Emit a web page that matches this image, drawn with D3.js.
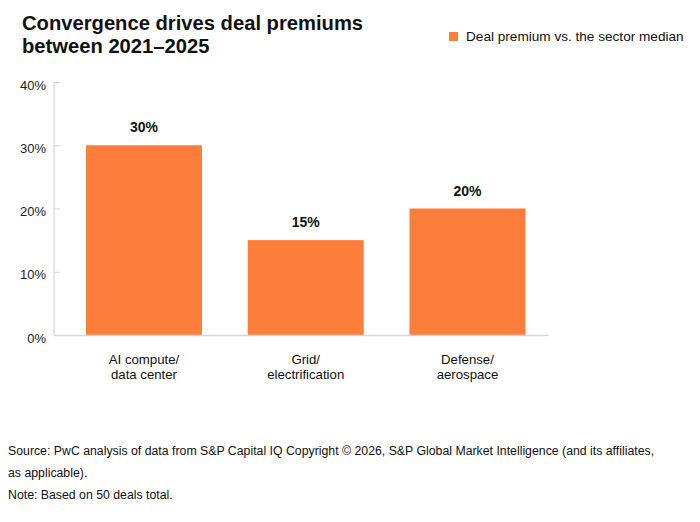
<!DOCTYPE html>
<html>
<head>
<meta charset="utf-8">
<script src="https://cdn.jsdelivr.net/npm/d3@7"></script>
<style>
  body { margin: 0; background: #fff; }
  svg { display: block; font-family: "Liberation Sans", Arial, Helvetica, sans-serif; }
</style>
</head>
<body>
<svg id="chart" width="700" height="522"></svg>
<script>
const categories = [["AI compute/", "data center"], ["Grid/", "electrification"], ["Defense/", "aerospace"]];
const categoryKeys = ["AI compute/data center", "Grid/electrification", "Defense/aerospace"];
const values = [30, 15, 20];
const yTicks = [0, 10, 20, 30, 40];
const titleLines = ["Convergence drives deal premiums", "between 2021\u20132025"];
const legendLabel = "Deal premium vs. the sector median";
const footnotes = [
  "Source: PwC analysis of data from S&P Capital IQ Copyright \u00a9 2026, S&P Global Market Intelligence (and its affiliates,",
  "as applicable).",
  "Note: Based on 50 deals total."
];

const svg = d3.select("#chart");
const orange = "#FD7E3A";
const axisColor = "#D5D5DD";

const x0 = 54, x1 = 548, yTop = 82, yBase = 335;

const x = d3.scaleBand().domain(categoryKeys).range([x0, x1])
  .paddingInner(0.283).paddingOuter(0.1686).align(0.587);
const y = d3.scaleLinear().domain([0, 40]).range([yBase, yTop]);

// title
svg.append("text").attr("x", 22).attr("y", 30)
  .attr("font-size", 20.2).attr("font-weight", "bold").attr("fill", "#111")
  .selectAll("tspan").data(titleLines).join("tspan")
  .attr("x", 22).attr("dy", (d, i) => i === 0 ? 0 : 23).text(d => d);

// legend
svg.append("rect").attr("x", 449).attr("y", 32).attr("width", 9).attr("height", 9).attr("fill", orange);
svg.append("text").attr("x", 466).attr("y", 41).attr("font-size", 13.6).attr("fill", "#111").text(legendLabel);

// y axis
const yAxis = d3.axisRight(y).tickValues(yTicks).tickSize(6).tickFormat(d => d + "%");
const gy = svg.append("g").attr("transform", `translate(${x0},0)`).call(yAxis);
gy.select(".domain").remove();
gy.selectAll(".tick line").attr("stroke", axisColor).attr("stroke-width", 1);
gy.selectAll(".tick text").attr("x", -8).attr("dy", "0.55em").attr("text-anchor", "end")
  .attr("font-size", 13).attr("fill", "#222").attr("font-family", null);
svg.append("line").attr("x1", x0).attr("x2", x0).attr("y1", yTop).attr("y2", yBase)
  .attr("stroke", axisColor).attr("stroke-width", 1.2);

// bars
const data = categoryKeys.map((k, i) => ({ key: k, lines: categories[i], value: values[i] }));
svg.append("g").selectAll("rect").data(data).join("rect")
  .attr("x", d => x(d.key)).attr("width", x.bandwidth())
  .attr("y", d => y(d.value)).attr("height", d => y(0) - y(d.value))
  .attr("fill", orange);

// baseline
const xAxis = d3.axisBottom(x).tickSize(0).tickFormat("");
const gx = svg.append("g").attr("transform", `translate(0,${yBase})`).call(xAxis);
gx.select(".domain").attr("stroke", axisColor).attr("stroke-width", 1.5);

// value labels
svg.append("g").selectAll("text").data(data).join("text")
  .attr("x", d => x(d.key) + x.bandwidth() / 2).attr("y", d => y(d.value) - 13)
  .attr("text-anchor", "middle").attr("font-size", 14).attr("font-weight", "bold").attr("fill", "#111")
  .text(d => d.value + "%");

// category labels (one text per line)
const lineData = [];
data.forEach(d => d.lines.forEach((l, i) => lineData.push({ l, i, cx: x(d.key) + x.bandwidth() / 2 })));
svg.append("g").selectAll("text").data(lineData).join("text")
  .attr("x", d => d.cx).attr("y", d => 364 + d.i * 15)
  .attr("text-anchor", "middle").attr("font-size", 13.2).attr("fill", "#111")
  .text(d => d.l);

// footnotes
const fy = [455, 477, 499];
svg.append("g").selectAll("text").data(footnotes).join("text")
  .attr("x", 8).attr("y", (d, i) => fy[i]).attr("font-size", 12.3).attr("fill", "#111")
  .text(d => d);
</script>
</body>
</html>
